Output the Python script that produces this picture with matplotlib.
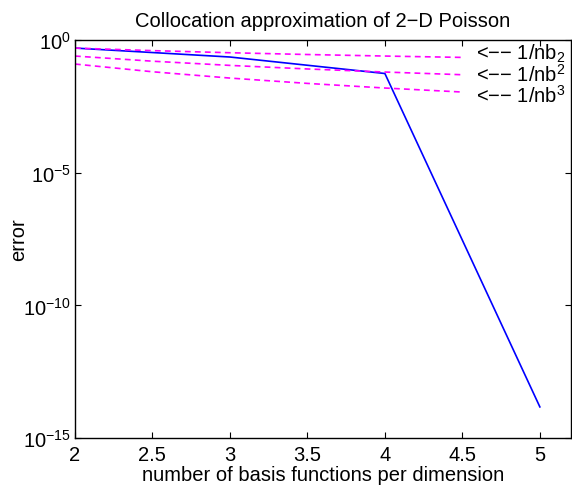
import matplotlib
matplotlib.use('Agg')
import matplotlib.pyplot as plt
from matplotlib.ticker import FixedLocator, NullLocator

plt.rcParams['font.family'] = ['Liberation Sans', 'DejaVu Sans']
plt.rcParams['mathtext.fontset'] = 'custom'
plt.rcParams['mathtext.rm'] = 'Liberation Sans'
plt.rcParams['mathtext.it'] = 'Liberation Sans'

# computed error vs number of basis functions
nb = [2, 3, 4, 5]
err = [0.5, 0.23, 0.055, 1.5e-14]

# reference slopes
nb_ref = [2, 2.5, 3, 3.5, 4, 4.5]
ref1 = [0.5, 0.4, 0.3333, 0.2857, 0.25, 0.2222]
ref2 = [0.25, 0.16, 0.1111, 0.0816, 0.0625, 0.0494]
ref3 = [0.125, 0.064, 0.0370, 0.0233, 0.0156, 0.0110]

labels = ['<\u2212\u2212 1/nb$_2$', '<\u2212\u2212 1/nb$^2$', '<\u2212\u2212 1/nb$^3$']
label_y = [0.205, 0.030, 0.0049]

fs = 14.5

fig = plt.figure(figsize=(5.72, 4.89), dpi=100)
ax = fig.add_axes([0.131, 0.102, 0.867, 0.814])

ax.semilogy(nb, err, color='#0000ff', lw=1.2)
for r in (ref1, ref2, ref3):
    ax.semilogy(nb_ref, r, '--', color='#ff00ff', lw=1.2, dashes=(3.5, 2.5))
for s, y in zip(labels, label_y):
    ax.text(4.59, y, s, fontsize=fs, va='baseline', ha='left')

ax.set_xlim(2, 5.2)
ax.set_ylim(1e-15, 1)
ax.set_xticks([2, 2.5, 3, 3.5, 4, 4.5, 5])
ax.set_xticklabels(['2', '2.5', '3', '3.5', '4', '4.5', '5'])
ax.yaxis.set_major_locator(FixedLocator([1e-15, 1e-10, 1e-5, 1]))
ax.yaxis.set_minor_locator(NullLocator())
ax.tick_params(direction='in', top=True, right=True, length=4, width=0.8,
               labelsize=fs)
ax.tick_params(axis='x', pad=5)
ax.tick_params(axis='y', pad=3)
for sp in ax.spines.values():
    sp.set_linewidth(1.0)

ax.set_title('Collocation approximation of 2\u2212D Poisson', fontsize=fs, pad=10)
ax.set_xlabel('number of basis functions per dimension', fontsize=fs, labelpad=1)
ax.set_ylabel('error', fontsize=fs)
ax.yaxis.set_label_coords(-0.095, 0.5)

plt.savefig('out.png', dpi=100)
